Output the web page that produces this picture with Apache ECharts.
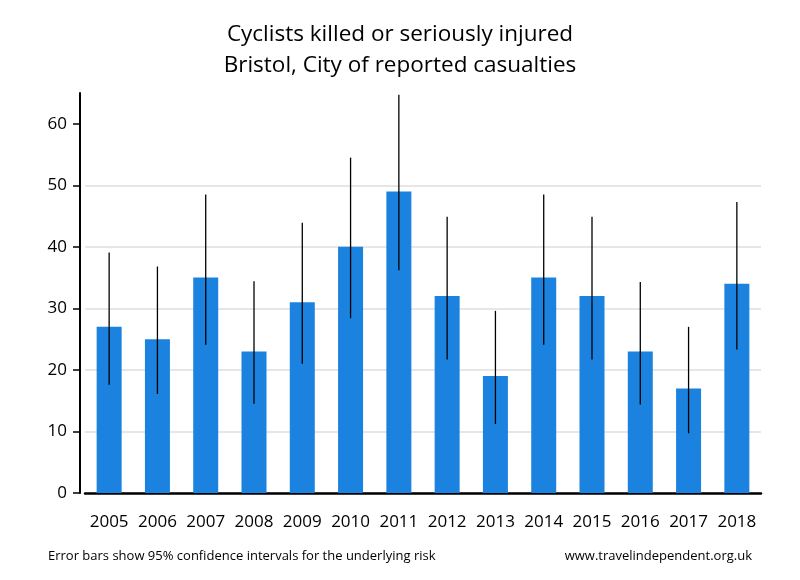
<!DOCTYPE html>
<html><head><meta charset="utf-8">
<script src="https://cdn.jsdelivr.net/npm/echarts@6/dist/echarts.min.js"></script>
<style>html,body{margin:0;padding:0;background:#fff}#c{width:800px;height:580px}</style>
</head><body><div id="c"></div>
<script>
const years = ['2005','2006','2007','2008','2009','2010','2011','2012','2013','2014','2015','2016','2017','2018'];
const casualties = [27,25,35,23,31,40,49,32,19,35,32,23,17,34];
const lowerCI = [17.6,16.1,24.1,14.5,21.0,28.4,36.2,21.7,11.2,24.1,21.7,14.4,9.7,23.3];
const upperCI = [39.1,36.8,48.5,34.4,43.9,54.5,64.7,44.9,29.6,48.5,44.9,34.3,27.0,47.3];
const yTicks = [0,10,20,30,40,50,60];

const FONT = 'Open Sans';
const chart = echarts.init(document.getElementById('c'), null, {renderer:'canvas'});
chart.setOption({
  animation:false,
  backgroundColor:'#fff',
  title:[{
    text:'Cyclists killed or seriously injured\nBristol, City of reported casualties',
    left:'center', top:14,
    textStyle:{fontFamily:FONT,fontSize:22.5,fontWeight:'normal',color:'#000',lineHeight:31}
  },{
    text:'Error bars show 95% confidence intervals for the underlying risk',
    left:43, top:545,
    textStyle:{fontFamily:FONT,fontSize:13,fontWeight:'normal',color:'#000'}
  },{
    text:'www.travelindependent.org.uk',
    right:43, top:545,
    textStyle:{fontFamily:FONT,fontSize:13,fontWeight:'normal',color:'#000'}
  }],
  grid:{left:85,right:39,top:93,bottom:87,containLabel:false},
  xAxis:{
    type:'category', data:years,
    axisLine:{show:true,lineStyle:{color:'#000',width:2.5}},
    axisTick:{show:false},
    axisLabel:{fontFamily:FONT,fontSize:17,color:'#000',margin:21,interval:0},
    splitLine:{show:false}
  },
  yAxis:{
    type:'value', min:0, max:65, interval:10, offset:5,
    axisLine:{show:true,lineStyle:{color:'#000',width:2}},
    axisTick:{show:true,length:7,lineStyle:{color:'#000',width:1.5},customValues:yTicks},
    axisLabel:{fontFamily:FONT,fontSize:17,color:'#000',margin:13,customValues:yTicks},
    splitLine:{show:true,showMaxLine:false,lineStyle:{color:'#e6e6e6',width:2}}
  },
  series:[{
    type:'bar', data:casualties, barWidth:25,
    itemStyle:{color:'#1c82e0'}
  },{
    type:'custom', z:10,
    data:years.map((y,i)=>[i,lowerCI[i],upperCI[i]]),
    renderItem:function(params,api){
      const lo = api.coord([api.value(0),api.value(1)]);
      const hi = api.coord([api.value(0),api.value(2)]);
      return {type:'line',shape:{x1:lo[0],y1:lo[1],x2:hi[0],y2:hi[1]},
        style:{stroke:'#000',lineWidth:1.3}};
    }
  }]
});
</script></body></html>
